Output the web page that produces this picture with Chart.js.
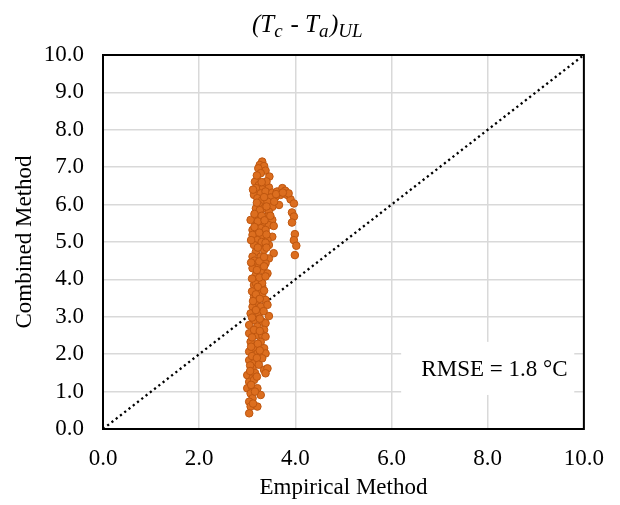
<!DOCTYPE html>
<html>
<head>
<meta charset="utf-8">
<script src="https://cdn.jsdelivr.net/npm/chart.js@4/dist/chart.umd.min.js"></script>
<style>
  html, body { margin: 0; padding: 0; background: #ffffff; }
  #wrap { width: 620px; height: 505px; position: relative; }
</style>
</head>
<body>
<div id="wrap"><canvas id="c" width="620" height="505"></canvas></div>
<script>
// ---- data ----
const empiricalX = [
  3.31,3.26,3.35,3.23,3.38,3.28,3.46,3.21,3.16,3.24,3.38,3.45,3.31,3.18,3.14,3.28,3.38,3.52,3.62,3.73,
  3.79,3.83,3.90,3.97,3.69,3.59,3.49,3.66,3.21,3.31,3.42,3.24,3.52,3.18,3.35,3.45,3.24,3.14,3.07,3.28,
  3.42,3.52,3.18,3.31,3.45,3.11,3.28,3.55,3.38,3.18,3.11,3.31,3.52,3.42,3.21,3.14,3.28,3.45,3.35,3.18,
  3.55,3.11,3.28,3.45,3.38,3.21,3.11,3.31,3.42,3.18,3.28,3.14,3.31,3.21,
  3.93,3.97,3.93,3.99,3.97,4.02,3.99,
  3.18,3.31,3.24,3.14,3.31,3.38,3.21,3.11,3.28,3.42,3.07,3.24,3.45,3.14,3.31,3.04,3.21,3.38,3.35,3.04,
  3.18,3.31,3.38,3.07,3.28,3.14,3.35,3.04,3.21,3.38,3.31,3.04,3.14,3.11,3.35,3.42,3.38,3.00,3.11,3.04,
  3.14,3.00,3.11,3.21,3.28,3.07,3.11,3.04,3.07,3.21,3.04,
  3.20,3.35,3.26,3.40,3.15,3.30,3.22,3.36,3.15,3.25,3.40,3.08,3.30,3.38,3.22,3.40,3.15,3.25,3.35,3.08,
  3.20,3.35,3.25,3.38,3.10,3.22,3.35,3.10,3.18,3.26,3.12,3.34,3.18,3.10,3.26,3.14,3.26,3.10,3.22,3.08,
  3.26,3.10,3.20,3.06,3.24,3.16,3.06,3.20,3.08,3.16,3.12,3.40,3.30,3.20,3.12,3.56,3.48,3.60,3.86,3.74
];
const combinedY = [
  7.15,7.06,7.03,6.97,6.91,6.84,6.75,6.66,6.61,6.52,6.50,6.46,6.41,6.44,6.26,6.30,6.35,6.32,6.35,6.44,
  6.37,6.26,6.14,6.03,6.26,6.21,6.19,5.99,6.17,6.12,6.08,5.99,5.94,5.90,5.90,5.81,5.77,5.59,5.59,5.63,
  5.68,5.59,5.45,5.50,5.45,5.32,5.37,5.43,5.32,5.19,5.19,5.14,5.14,5.05,5.05,4.92,4.92,4.92,4.79,4.74,
  4.70,4.61,4.61,4.56,4.43,4.39,4.30,4.25,4.16,4.12,3.98,3.85,3.82,3.94,
  5.79,5.68,5.52,5.21,5.05,4.90,4.65,
  3.90,3.90,3.72,3.54,3.58,3.45,3.40,3.27,3.27,3.32,3.09,3.09,3.02,2.91,2.87,2.78,2.74,2.83,2.65,2.56,
  2.51,2.51,2.47,2.33,2.33,2.16,2.16,2.07,2.02,2.02,1.89,1.84,1.76,1.62,1.58,1.62,1.49,1.44,1.36,1.26,
  1.31,1.09,1.09,1.09,0.91,0.95,0.82,0.73,0.60,0.60,0.42,
  6.05,6.20,5.85,5.95,5.75,5.70,5.55,5.58,5.40,5.25,5.20,5.05,5.00,4.98,4.85,4.85,4.50,4.48,4.60,4.45,
  4.25,4.35,4.05,4.08,4.02,3.80,3.70,3.68,3.60,3.48,3.42,3.15,3.18,2.98,2.95,2.65,2.62,2.45,2.28,2.20,
  2.10,1.95,1.90,1.70,1.72,1.50,1.55,1.40,1.18,1.00,0.68,6.62,6.60,6.78,6.40,6.08,5.70,6.28,6.30,6.32
];
const identityX = [0, 10];
const identityY = [0, 10];
const xAxisTitle = 'Empirical Method';
const yAxisTitle = 'Combined Method';
const rmseText = 'RMSE = 1.8 °C';
// title pieces: [text, isSubscript]
const titleParts = [['(T', false], ['c', true], [' - T', false], ['a', true], [')', false], ['UL', true]];

const SERIF = '"Liberation Serif", "Times New Roman", serif';

const scatterData = empiricalX.map((x, i) => ({ x: x, y: combinedY[i] }));
const identityData = identityX.map((x, i) => ({ x: x, y: identityY[i] }));

const framePlugin = {
  id: 'frameAndBox',
  beforeDatasetsDraw(chart) {
    const { ctx, scales: { x, y } } = chart;
    ctx.save();
    const bl = x.getPixelForValue(6.2), br = x.getPixelForValue(9.8);
    const bt = y.getPixelForValue(2.33), bb = y.getPixelForValue(0.91);
    ctx.fillStyle = '#ffffff';
    ctx.fillRect(bl, bt, br - bl, bb - bt);
    ctx.fillStyle = '#000000';
    ctx.font = '23px ' + SERIF;
    ctx.textAlign = 'center';
    ctx.textBaseline = 'middle';
    ctx.fillText(rmseText, x.getPixelForValue(8.14), y.getPixelForValue(1.58));
    ctx.restore();
  },
  afterDatasetsDraw(chart) {
    const { ctx, chartArea: a } = chart;
    ctx.save();
    ctx.strokeStyle = '#000000';
    ctx.lineWidth = 2;
    ctx.strokeRect(a.left, a.top, a.right - a.left, a.bottom - a.top);
    ctx.restore();
  },
  afterDraw(chart) {
    const ctx = chart.ctx;
    ctx.save();
    ctx.fillStyle = '#000000';
    ctx.textBaseline = 'alphabetic';
    ctx.textAlign = 'left';
    const mainFont = 'italic 25px ' + SERIF;
    const subFont = 'italic 19px ' + SERIF;
    let total = 0;
    const widths = titleParts.map(([t, sub]) => {
      ctx.font = sub ? subFont : mainFont;
      const w = ctx.measureText(t).width + (sub ? 1.5 : 0);
      total += w;
      return w;
    });
    let cx = 308 - total / 2;
    const base = 32;
    titleParts.forEach(([t, sub], i) => {
      ctx.font = sub ? subFont : mainFont;
      ctx.fillText(t, cx, sub ? base + 5 : base);
      cx += widths[i];
    });
    ctx.restore();
  }
};

new Chart(document.getElementById('c'), {
  data: {
    datasets: [
      {
        type: 'scatter',
        label: 'points',
        data: scatterData,
        backgroundColor: '#DC6E1F',
        borderColor: '#BE560F',
        borderWidth: 1,
        pointRadius: 3.8,
        pointHoverRadius: 3.8,
        order: 1
      },
      {
        type: 'line',
        label: '1:1',
        data: identityData,
        borderColor: '#000000',
        borderWidth: 2.3,
        borderDash: [2.2, 3.2],
        pointRadius: 0,
        fill: false,
        order: 2
      }
    ]
  },
  options: {
    responsive: false,
    animation: false,
    devicePixelRatio: 1,
    layout: { padding: { top: 55, right: 33, left: 0, bottom: 0 } },
    plugins: {
      legend: { display: false },
      tooltip: { enabled: false },
      title: { display: false }
    },
    scales: {
      x: {
        type: 'linear',
        min: 0, max: 10,
        afterFit(s) { s.height = 76; },
        ticks: {
          stepSize: 2,
          padding: 16,
          color: '#000000',
          font: { family: SERIF, size: 23 },
          callback: v => Number(v).toFixed(1)
        },
        grid: { color: '#D9D9D9', lineWidth: 1.5, drawTicks: false },
        border: { display: false },
        title: {
          display: true,
          text: xAxisTitle,
          color: '#000000',
          font: { family: SERIF, size: 23 },
          padding: { top: 0, bottom: 3 }
        }
      },
      y: {
        type: 'linear',
        min: 0, max: 10,
        afterFit(s) { s.width = 103; },
        ticks: {
          stepSize: 1,
          padding: 19,
          color: '#000000',
          font: { family: SERIF, size: 23 },
          callback: v => Number(v).toFixed(1)
        },
        grid: { color: '#D9D9D9', lineWidth: 1.5, drawTicks: false },
        border: { display: false },
        title: {
          display: true,
          text: yAxisTitle,
          color: '#000000',
          font: { family: SERIF, size: 23 },
          padding: { top: 11, bottom: 0 }
        }
      }
    }
  },
  plugins: [framePlugin]
});
</script>
</body>
</html>
